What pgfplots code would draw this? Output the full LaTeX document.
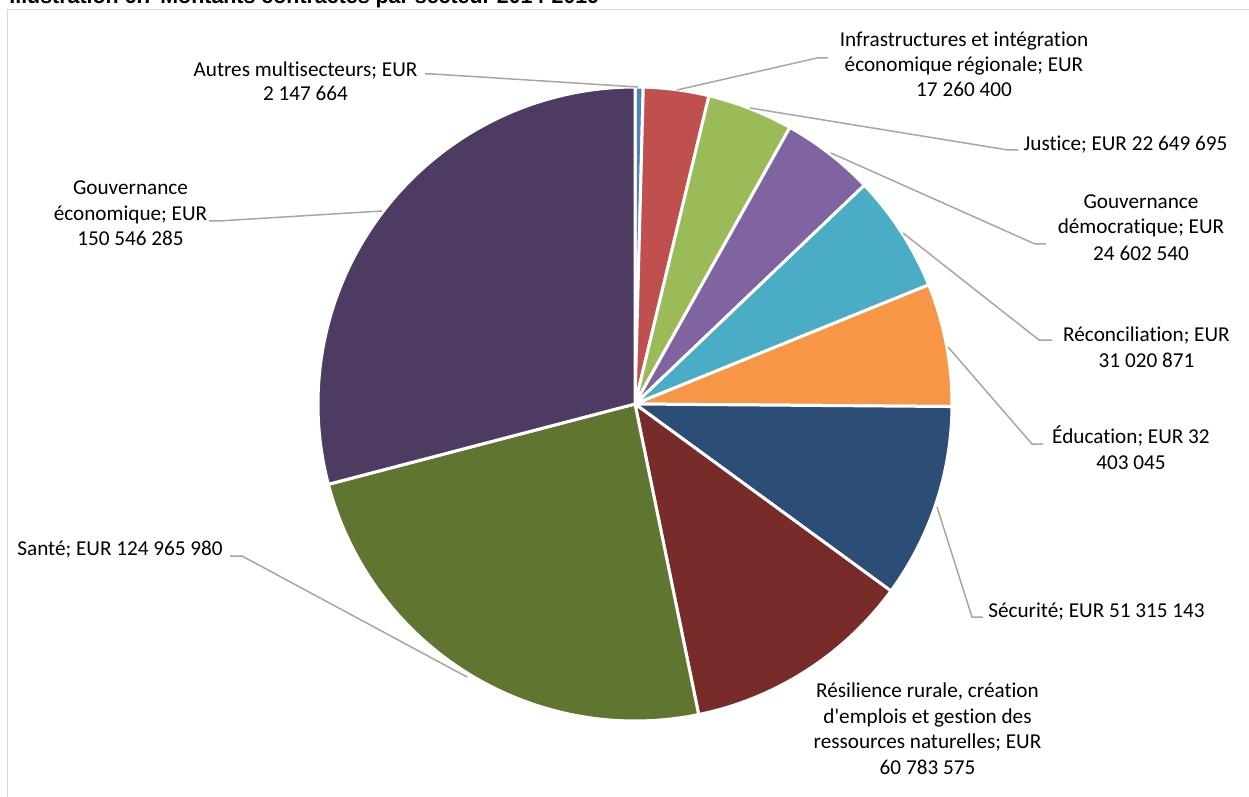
\documentclass[border=0pt]{standalone}
\usepackage{pgfplots}
\usepackage{pgfplotstable}
\pgfplotsset{compat=1.18}
\usepackage{fontspec}
\setmainfont{Carlito}[Ligatures={TeXOff,NoCommon}]
\newfontfamily\titlefont{Liberation Sans}

\definecolor{s0}{HTML}{4F81BD}
\definecolor{s1}{HTML}{C0504D}
\definecolor{s2}{HTML}{9BBB59}
\definecolor{s3}{HTML}{8064A2}
\definecolor{s4}{HTML}{4BACC6}
\definecolor{s5}{HTML}{F79646}
\definecolor{s6}{HTML}{2C4D75}
\definecolor{s7}{HTML}{772C2A}
\definecolor{s8}{HTML}{5F7530}
\definecolor{s9}{HTML}{4D3B62}
\definecolor{leader}{HTML}{A6A6A6}
\definecolor{frame}{HTML}{D9D9D9}

% sector values in EUR, clockwise from 12 o'clock
\pgfplotstableread{
id value color
autres 2147664 s0
infra 17260400 s1
justice 22649695 s2
gouvdem 24602540 s3
reconc 31020871 s4
educ 32403045 s5
secu 51315143 s6
resil 60783575 s7
sante 124965980 s8
gouveco 150546285 s9
}\piedata

\def\total{0}
\pgfplotstableforeachcolumnelement{value}\of\piedata\as\v{\xdef\total{\fpeval{\total+\v}}}
\def\cum{0}

\newcommand\lbl[3]{\node[anchor=base,inner sep=0pt,font=\fontsize{10.6}{12.75}\selectfont] at (axis cs:#1,#2) {#3};}

\begin{document}
\begin{tikzpicture}
\begin{axis}[
  scale only axis, width=624.5pt, height=398.5pt,
  xmin=0, xmax=1249, ymin=0, ymax=797, y dir=reverse,
  hide axis, clip=false,
]
% frame
\draw[frame, line width=0.75pt] (axis cs:7.5,800) -- (axis cs:7.5,9.5) -- (axis cs:1255,9.5);

\pgfplotsforeachungrouped \i in {0,...,9}{%
  \pgfplotstablegetelem{\i}{value}\of\piedata
  \xdef\cumnew{\fpeval{\cum+\pgfplotsretval}}%
  \edef\angA{\fpeval{90-360*\cumnew/\total}}%
  \edef\angB{\fpeval{90-360*\cum/\total}}%
  \pgfplotstablegetelem{\i}{color}\of\piedata
  \edef\temp{\noexpand\addplot[fill=\pgfplotsretval, draw=white, line width=1.5pt, line join=round, domain=\angA:\angB, samples=90, variable=\noexpand\t] ({635+317*cos(\noexpand\t)}, {404-317*sin(\noexpand\t)}) -- (axis cs:635,404) -- cycle;}%
  \temp
  \global\let\cum\cumnew
}

% leader lines
\addplot[leader, line width=0.75pt, no markers] coordinates {(425,74) (433,74) (638,87)};
\addplot[leader, line width=0.75pt, no markers] coordinates {(677,90) (817,58) (828,58)};
\addplot[leader, line width=0.75pt, no markers] coordinates {(750,108) (1008,150) (1018,150)};
\addplot[leader, line width=0.75pt, no markers] coordinates {(831,153) (1035,244) (1046,244)};
\addplot[leader, line width=0.75pt, no markers] coordinates {(903,233) (1039,340) (1052,340)};
\addplot[leader, line width=0.75pt, no markers] coordinates {(948,347) (1032,444) (1043,444)};
\addplot[leader, line width=0.75pt, no markers] coordinates {(937,507) (972,617) (983,617)};
\addplot[leader, line width=0.75pt, no markers] coordinates {(230,556) (242,556) (467,677)};
\addplot[leader, line width=0.75pt, no markers] coordinates {(209,221) (218,221) (382,211)};

% labels
\lbl{305.5}{76.5}{Autres multisecteurs; EUR}
\lbl{305.5}{101}{2 147 664}
\lbl{964}{47}{Infrastructures et intégration}
\lbl{964}{72}{économique régionale; EUR}
\lbl{964}{97}{17 260 400}
\lbl{1125.5}{151}{Justice; EUR 22 649 695}
\lbl{1141}{208}{Gouvernance}
\lbl{1141}{234}{démocratique; EUR}
\lbl{1141}{260}{24 602 540}
\lbl{1146.5}{341}{Réconciliation; EUR}
\lbl{1146.5}{367}{31 020 871}
\lbl{1131}{443.5}{Éducation; EUR 32}
\lbl{1131}{469.5}{403 045}
\lbl{1096.5}{617}{Sécurité; EUR 51 315 143}
\lbl{927.5}{697}{Résilience rurale, création}
\lbl{927.5}{723}{d'emplois et gestion des}
\lbl{927.5}{748.5}{ressources naturelles; EUR}
\lbl{927.5}{774}{60 783 575}
\lbl{120}{555}{Santé; EUR 124 965 980}
\lbl{130.5}{195}{Gouvernance}
\lbl{130.5}{220.5}{économique; EUR}
\lbl{130.5}{246}{150 546 285}

% title (cut off at the top, as in the reference)
\node[anchor=base west, inner sep=0pt, font=\titlefont\bfseries\fontsize{10.7}{12}\selectfont] at (axis cs:9,4) {Illustration 6.7 Montants contractés par secteur 2014-2019};
\end{axis}
\pgfresetboundingbox
\path[use as bounding box] (current axis.south west) rectangle (current axis.north east);
\end{tikzpicture}
\end{document}
